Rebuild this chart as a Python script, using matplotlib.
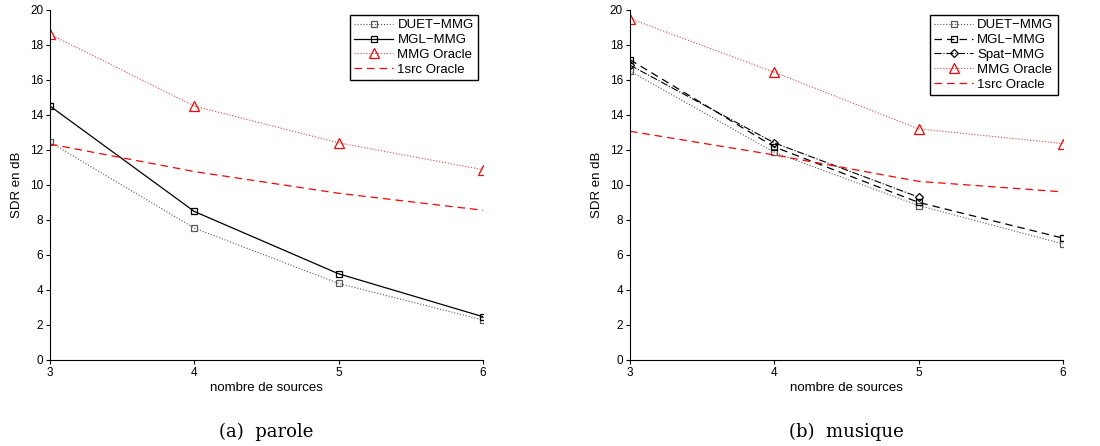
import numpy as np
import matplotlib.pyplot as plt

plt.rcParams['font.family'] = ['Liberation Sans', 'DejaVu Sans']

sources = [3, 4, 5, 6]

# (a) parole
parole_duet = [12.43, 7.53, 4.37, 2.28]
parole_mgl = [14.5, 8.48, 4.92, 2.47]
parole_oracle = [18.6, 14.5, 12.4, 10.87]
parole_1src = [12.33, 10.76, 9.52, 8.55]

# (b) musique
musique_duet = [16.5, 11.86, 8.82, 6.63]
musique_mgl = [17.15, 12.17, 9.0, 6.96]
musique_spat = [16.84, 12.4, 9.3, np.nan]
musique_oracle = [19.5, 16.43, 13.2, 12.36]
musique_1src = [13.06, 11.71, 10.2, 9.6]

fig = plt.figure(figsize=(11, 4.46), dpi=100)
ax1 = fig.add_axes([0.0455, 0.193, 0.3935, 0.785])
ax2 = fig.add_axes([0.5727, 0.193, 0.3935, 0.785])

mk = dict(markersize=5, markerfacecolor='none', markeredgewidth=0.9)
tri = dict(marker='^', markersize=7, markerfacecolor='none', markeredgecolor='red', markeredgewidth=0.9)

ax1.plot(sources, parole_duet, ':', color='0.35', lw=0.8, marker='s', label='DUET\u2212MMG', **mk)
ax1.plot(sources, parole_mgl, '-', color='black', lw=0.9, marker='s', label='MGL\u2212MMG', **mk)
ax1.plot(sources, parole_oracle, ':', color='#ff4040', lw=0.8, label='MMG Oracle', **tri)
ax1.plot(sources, parole_1src, '--', color='red', lw=0.9, dashes=(6, 4), label='1src Oracle')

ax2.plot(sources, musique_duet, ':', color='0.35', lw=0.8, marker='s', label='DUET\u2212MMG', **mk)
ax2.plot(sources, musique_mgl, '--', color='black', lw=0.9, dashes=(6, 4), marker='s', label='MGL\u2212MMG', **mk)
ax2.plot(sources, musique_spat, '-.', color='black', lw=0.8, marker='D', markersize=4.5,
         markerfacecolor='none', markeredgewidth=0.9, label='Spat\u2212MMG')
ax2.plot(sources, musique_oracle, ':', color='#ff4040', lw=0.8, label='MMG Oracle', **tri)
ax2.plot(sources, musique_1src, '--', color='red', lw=0.9, dashes=(6, 4), label='1src Oracle')

for ax, cap in [(ax1, '(a)  parole'), (ax2, '(b)  musique')]:
    ax.set_xlim(3, 6)
    ax.set_ylim(0, 20)
    ax.set_xticks(sources)
    ax.set_yticks(range(0, 21, 2))
    ax.spines['top'].set_visible(False)
    ax.spines['right'].set_visible(False)
    ax.tick_params(labelsize=8.5, length=3, width=0.8, direction='out', pad=2)
    ax.set_xlabel('nombre de sources', fontsize=9.5, labelpad=2)
    ax.set_ylabel('SDR en dB', fontsize=9.5, labelpad=5)
    leg = ax.legend(loc='upper right', fontsize=9.5, fancybox=False, edgecolor='black',
                    framealpha=1, borderaxespad=0.4, handlelength=3, handletextpad=0.3,
                    labelspacing=0.2, borderpad=0.3)
    leg.get_frame().set_linewidth(1.0)
    ax.text(0.5, -0.205, cap, transform=ax.transAxes, ha='center', va='center',
            fontsize=13, family=['DejaVu Serif'])

fig.savefig('out.png', dpi=100)
